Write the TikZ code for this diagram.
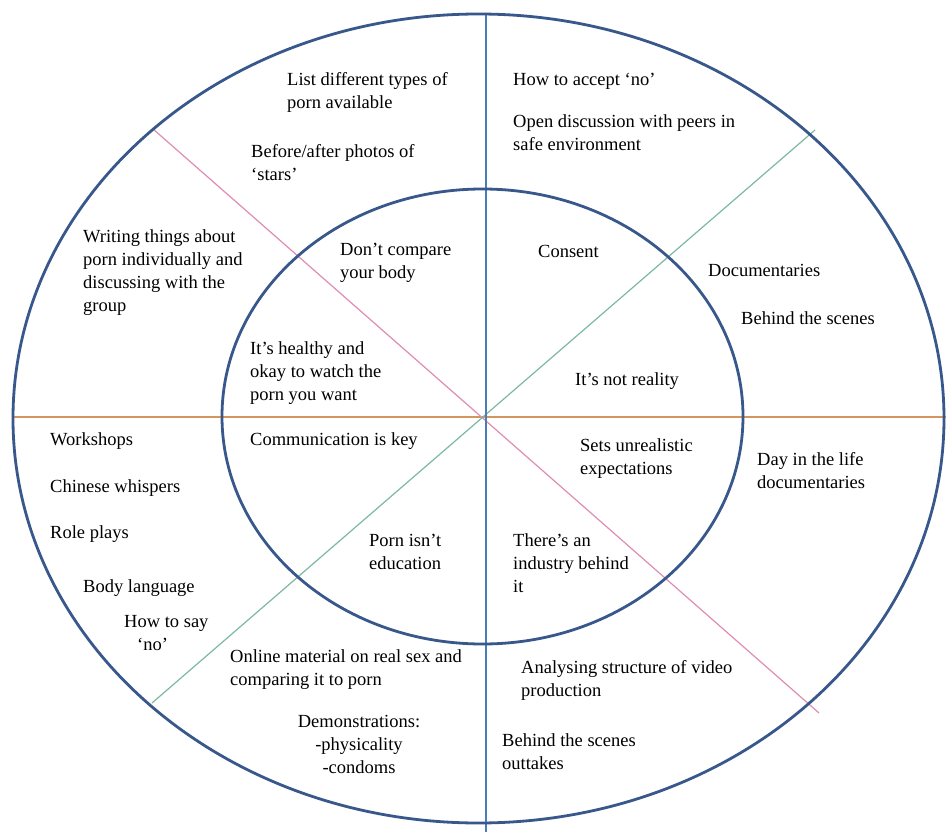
\documentclass[tikz,border=0pt]{standalone}
\usepackage{fontspec}
\setmainfont{Liberation Serif}
\definecolor{ringblue}{RGB}{56,88,140}
\definecolor{vblue}{RGB}{74,126,187}
\definecolor{horange}{RGB}{212,150,95}
\definecolor{dpink}{RGB}{224,140,180}
\definecolor{dgreen}{RGB}{125,185,160}
\begin{document}
\begin{tikzpicture}[x=1pt,y=-1pt,
  ring/.style={draw=ringblue,line width=2.8pt},
  divider/.style={line width=1.2pt},
  lbl/.style={anchor=base west,inner sep=0pt,align=left,
    font=\fontsize{18.5}{23}\selectfont},
  clbl/.style={anchor=base,inner sep=0pt,align=center,
    font=\fontsize{18.5}{23}\selectfont}]
\useasboundingbox[fill=white] (0,0) rectangle (946,832);
% dividers
\coordinate (vtop) at (486,15);
\coordinate (vbot) at (486,832);
\coordinate (hl) at (13,417);
\coordinate (hr) at (946,417);
\coordinate (pa) at (153,129);
\coordinate (pb) at (819,713);
\coordinate (ga) at (152,703);
\coordinate (gb) at (815,130);
\draw[divider,draw=horange] (hl) -- (hr);
\draw[divider,draw=dpink] (pa) -- (pb);
\draw[divider,draw=dgreen] (ga) -- (gb);
\draw[divider,draw=vblue] (vtop) -- (vbot);
% rings
\draw[ring] (478.5,418.5) ellipse [x radius=465.5, y radius=404.5];
\draw[ring] (482.5,416.5) ellipse [x radius=260.5, y radius=227.5];
% outer ring texts (base = baseline of last line)
\node[lbl] (t1) at (287,108.5) {List different types of\\porn available};
\node[lbl] (t2) at (251,180.5) {Before/after photos of\\‘stars’};
\node[lbl] (t3) at (513,85.5) {How to accept ‘no’};
\node[lbl] (t4) at (513,150.5) {Open discussion with peers in\\safe environment};
\node[lbl] (t5) at (83,311.5) {Writing things about\\porn individually and\\discussing with the\\group};
\node[lbl] (t6) at (708,276.5) {Documentaries};
\node[lbl] (t7) at (741,324.5) {Behind the scenes};
\node[lbl] (t8) at (50,445) {Workshops};
\node[lbl] (t9) at (50,492.5) {Chinese whispers};
\node[lbl] (t10) at (50,538.5) {Role plays};
\node[lbl] (t11) at (83,592.5) {Body language};
\node[lbl] (t12) at (124,650.5) {How to say\\\hspace{13pt}‘no’};
\node[lbl] (t13) at (757,488.5) {Day in the life\\documentaries};
\node[lbl] (t14) at (230,685.5) {Online material on real sex and\\comparing it to porn};
\node[clbl] (t15) at (359,773.5) {Demonstrations:\\-physicality\\-condoms};
\node[lbl] (t16) at (521,696.5) {Analysing structure of video\\production};
\node[lbl] (t17) at (502,769.5) {Behind the scenes\\outtakes};
% inner ring texts
\node[lbl] (i1) at (340,278.5) {Don’t compare\\your body};
\node[lbl] (i2) at (538,257.5) {Consent};
\node[lbl] (i3) at (250,400.5) {It’s healthy and\\okay to watch the\\porn you want};
\node[lbl] (i4) at (575,385.5) {It’s not reality};
\node[lbl] (i5) at (250,445.5) {Communication is key};
\node[lbl] (i6) at (580,474) {Sets unrealistic\\expectations};
\node[lbl] (i7) at (369,569.5) {Porn isn’t\\education};
\node[lbl] (i8) at (513,592.5) {There’s an\\industry behind\\it};
\end{tikzpicture}
\end{document}
